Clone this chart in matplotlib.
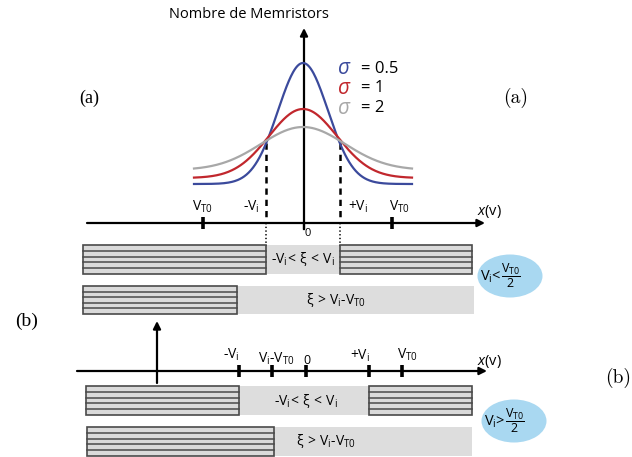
import numpy as np
import matplotlib
matplotlib.use("Agg")
import matplotlib.pyplot as plt
from matplotlib.patches import Rectangle, Ellipse

# ── Data (diagram coordinates, pixel space of the original) ───────────────────
SIGMAS       = [0.5, 1, 2]
SIGMA_COLORS = ['#3b4a9c', '#c1272d', '#a8a8a8']
PEAK_Y       = [63, 109, 127]      # top of each bell
BASE_Y       = [184, 178, 170]     # tail level of each bell
BELL_WIDTH   = [25, 34, 42]        # spread of each bell
BELL_X0, BELL_X1, BELL_C = 194, 412, 303

# axis (a): tick positions and labels
TICKS_A  = [203, 392]
LABELS_A = [(202, r'$V_{T0}$'), (251, r'-$V_i$'), (358, r'+$V_i$'), (399, r'$V_{T0}$')]
VI_A     = [266, 340]

# axis (b)
TICKS_B  = [239, 272, 306, 369, 402]
LABELS_B = [(231, 355, r'-$V_i$'), (276, 359, r'$V_i$-$V_{T0}$'), (307, 360, '0'),
            (360, 356, r'+$V_i$'), (407, 355, r'$V_{T0}$')]

# bar rows: (y_top, y_bottom, [(x0, x1, hatched?), ...], text, text_x)
ROWS = [
    (245, 274, [(83, 266, True), (266, 340, False), (340, 472, True)], r'-$V_i\!<\,\xi\,<\,V_i$', 303),
    (286, 314, [(83, 237, True), (237, 474, False)], r'$\xi\,>\,V_i$-$V_{T0}$', 336),
    (386, 415, [(86, 239, True), (239, 369, False), (369, 472, True)], r'-$V_i\!<\,\xi\,<\,V_i$', 306),
    (427, 456, [(87, 274, True), (274, 472, False)], r'$\xi\,>\,V_i$-$V_{T0}$', 326),
]
BUBBLES = [(510, 276, '<'), (514, 421, '>')]
# ─────────────────────────────────────────────────────────────────────────────

plt.rcParams['font.family'] = ['Open Sans', 'DejaVu Sans']
plt.rcParams['mathtext.fontset'] = 'custom'
plt.rcParams['mathtext.rm'] = 'Open Sans'
plt.rcParams['mathtext.it'] = 'Open Sans:italic'
plt.rcParams['mathtext.default'] = 'regular'

fig = plt.figure(figsize=(6.32, 4.57), dpi=100)
ax = fig.add_axes([0, 0, 1, 1])
ax.set_xlim(0, 632)
ax.set_ylim(457, 0)
ax.axis('off')

arrow = dict(arrowstyle='-|>', lw=1.6, color='black', mutation_scale=11, shrinkA=0, shrinkB=0)

# ── (a) bell curves ──
ax.annotate('', xy=(304, 28), xytext=(304, 229), arrowprops=arrow)
ax.text(249, 15, 'Nombre de Memristors', ha='center', va='center', fontsize=10.5)
x = np.linspace(BELL_X0, BELL_X1, 300)
for sig, col, pk, bs, w in zip(SIGMAS, SIGMA_COLORS, PEAK_Y, BASE_Y, BELL_WIDTH):
    y = bs - (bs - pk) * np.exp(-(x - BELL_C) ** 2 / (2 * w ** 2))
    ax.plot(x, y, color=col, lw=1.6, zorder=3)
for i, (sig, col) in enumerate(zip(SIGMAS, SIGMA_COLORS)):
    yy = 69 + i * 19.5
    ax.text(337, yy, r'$\mathit{\sigma}$', color=col, fontsize=15, ha='left', va='center')
    ax.text(361, yy, f'= {sig:g}', color='black', fontsize=12, ha='left', va='center')

ax.annotate('', xy=(485, 223), xytext=(87, 223), arrowprops=arrow)
for t in TICKS_A:
    ax.plot([t, t], [217, 229], color='black', lw=2.6, solid_capstyle='butt')
ax.plot([304, 304], [223, 229], color='black', lw=1.6)
for xx, s in LABELS_A:
    ax.text(xx, 207, s, ha='center', va='center', fontsize=10)
ax.text(308, 234, '0', ha='center', va='center', fontsize=8)
ax.text(477, 211, r'$\mathit{x}$(v)', ha='left', va='center', fontsize=10.5)
for vx in VI_A:
    ax.plot([vx, vx], [143, 223], color='black', lw=1.8, ls=(0, (2.5, 2)))
    ax.plot([vx, vx], [223, 246], color='#333333', lw=1.4, ls=(0, (0.7, 1.2)))

# ── (b) axis ──
ax.annotate('', xy=(157, 321), xytext=(157, 383), arrowprops=arrow)
ax.annotate('', xy=(487, 371), xytext=(77, 371), arrowprops=arrow)
for t in TICKS_B:
    ax.plot([t, t], [365, 377], color='black', lw=2.6, solid_capstyle='butt')
for xx, yy, s in LABELS_B:
    ax.text(xx, yy, s, ha='center', va='center', fontsize=10 if s != '0' else 9)
ax.text(477, 362, r'$\mathit{x}$(v)', ha='left', va='center', fontsize=10.5)

# ── bar rows ──
for y0, y1, segs, txt, tx in ROWS:
    for x0, x1, hatched in segs:
        if hatched:
            ax.add_patch(Rectangle((x0, y0), x1 - x0, y1 - y0, facecolor='#dadada',
                                   edgecolor='#4a4a4a', lw=1.2, zorder=2))
            for ly in np.linspace(y0, y1, 6)[1:-1]:
                ax.plot([x0, x1], [ly, ly], color='#4a4a4a', lw=1.1, zorder=2)
        else:
            ax.add_patch(Rectangle((x0, y0), x1 - x0, y1 - y0, facecolor='#dddddd',
                                   edgecolor='none', zorder=1))
    ax.text(tx, (y0 + y1) / 2, txt, ha='center', va='center', fontsize=10, zorder=4)

for cx, cy, rel in BUBBLES:
    ax.add_patch(Ellipse((cx, cy), 65, 43, facecolor='#a9d8f1', edgecolor='none'))
    ax.text(cx - 9, cy + 1, r'$V_i$' + rel, ha='right', va='center', fontsize=10.5)
    ax.text(cx - 9, cy, r'$\dfrac{V_{T0}}{2}$', ha='left', va='center', fontsize=9)

# ── panel labels ──
ax.text(89, 98, '(a)', ha='center', va='center', fontsize=13, family='Liberation Serif')
ax.text(27, 321, '(b)', ha='center', va='center', fontsize=14, family='Liberation Serif')
ax.text(516, 98, '(a)', ha='center', va='center', fontsize=14, family='cmr10')
ax.text(618, 378, '(b)', ha='center', va='center', fontsize=14, family='cmr10')

plt.savefig('out.png', dpi=100)
